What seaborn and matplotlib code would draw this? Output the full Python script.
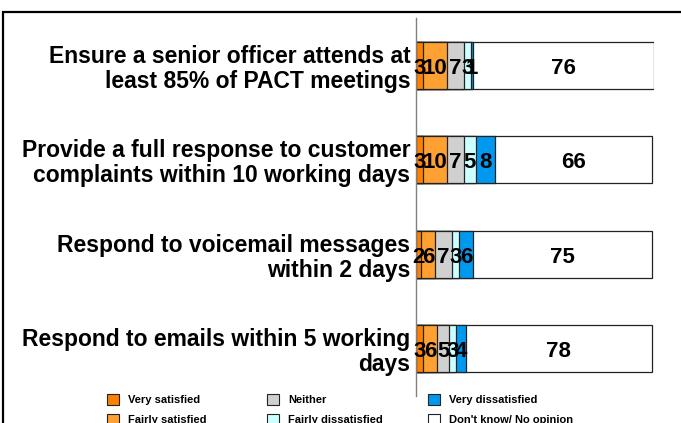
import matplotlib
matplotlib.use("Agg")
import matplotlib.pyplot as plt
import seaborn as sns
import pandas as pd
import numpy as np
from matplotlib.patches import Patch, Rectangle

categories = [
    "Ensure a senior officer attends at\nleast 85% of PACT meetings",
    "Provide a full response to customer\ncomplaints within 10 working days",
    "Respond to voicemail messages\nwithin 2 days",
    "Respond to emails within 5 working\ndays",
]
series = ["Very satisfied", "Fairly satisfied", "Neither",
          "Fairly dissatisfied", "Very dissatisfied", "Don't know/ No opinion"]
very_satisfied = [3, 3, 2, 3]
fairly_satisfied = [10, 10, 6, 6]
neither = [7, 7, 7, 5]
fairly_dissatisfied = [3, 5, 3, 3]
very_dissatisfied = [1, 8, 6, 4]
dont_know = [76, 66, 75, 78]

colors = ["#FF8000", "#FFA033", "#D0D0D0", "#CCFFFF", "#0099F0", "#FFFFFF"]

values = [very_satisfied, fairly_satisfied, neither,
          fairly_dissatisfied, very_dissatisfied, dont_know]

sns.set_style("white")
plt.rcParams["font.family"] = ["Liberation Sans", "DejaVu Sans"]
plt.rcParams["text.color"] = "black"
plt.rcParams["axes.labelcolor"] = "black"
plt.rcParams["xtick.color"] = "black"
plt.rcParams["ytick.color"] = "black"

fig = plt.figure(figsize=(6.81, 4.23), dpi=100)
ax = fig.add_axes([416 / 681, 27 / 423, 238 / 681, 378 / 423])

cum = np.cumsum(np.array(values), axis=0)
# draw from the outermost cumulative segment inward
for i in range(len(series) - 1, -1, -1):
    df = pd.DataFrame({"cat": categories, "val": cum[i]})
    sns.barplot(data=df, x="val", y="cat", orient="h", color=colors[i],
                saturation=1, width=0.5, edgecolor="#222222", linewidth=0.9,
                ax=ax)

# value labels
for r in range(len(categories)):
    left = 0
    for i in range(len(series)):
        v = values[i][r]
        ax.text(left + v / 2, r + 0.03, str(v), ha="center", va="center",
                fontsize=16, fontweight="bold", color="black")
        left += v

ax.set_xlim(0, 100)
ax.set_ylim(3.5, -0.5)
ax.set_xlabel("")
ax.set_ylabel("")
ax.set_xticks([])
for s in ["top", "right", "bottom"]:
    ax.spines[s].set_visible(False)
ax.spines["left"].set_color("#808080")
ax.spines["left"].set_linewidth(1.0)
ax.tick_params(axis="y", length=0, pad=4, labelcolor="black")
ax.set_yticks(range(len(categories)))
ax.set_yticklabels(categories, fontsize=16.5, fontweight="bold",
                   linespacing=1.1, color="black")

# legend in three fixed columns
col_x = [107, 267, 428]
for c in range(3):
    handles = [Patch(facecolor=colors[2 * c + k], edgecolor="#222222",
                     linewidth=0.8, label=series[2 * c + k]) for k in range(2)]
    fig.legend(handles=handles, loc="upper left",
               bbox_to_anchor=(col_x[c] / 681, (423 - 394) / 423),
               frameon=False, borderpad=0, borderaxespad=0,
               handlelength=1.08, handleheight=1.17, handletextpad=0.8,
               labelspacing=0.75, prop={"size": 8, "weight": "bold"},
               labelcolor="black")

# outer frame (partially cut by the image edges)
fig.patches.append(Rectangle((3 / 681, -0.1), 1.2, (423 - 12) / 423 + 0.1,
                             transform=fig.transFigure, fill=False,
                             edgecolor="black", linewidth=1.6, zorder=10))

fig.savefig("out.png", dpi=100)
